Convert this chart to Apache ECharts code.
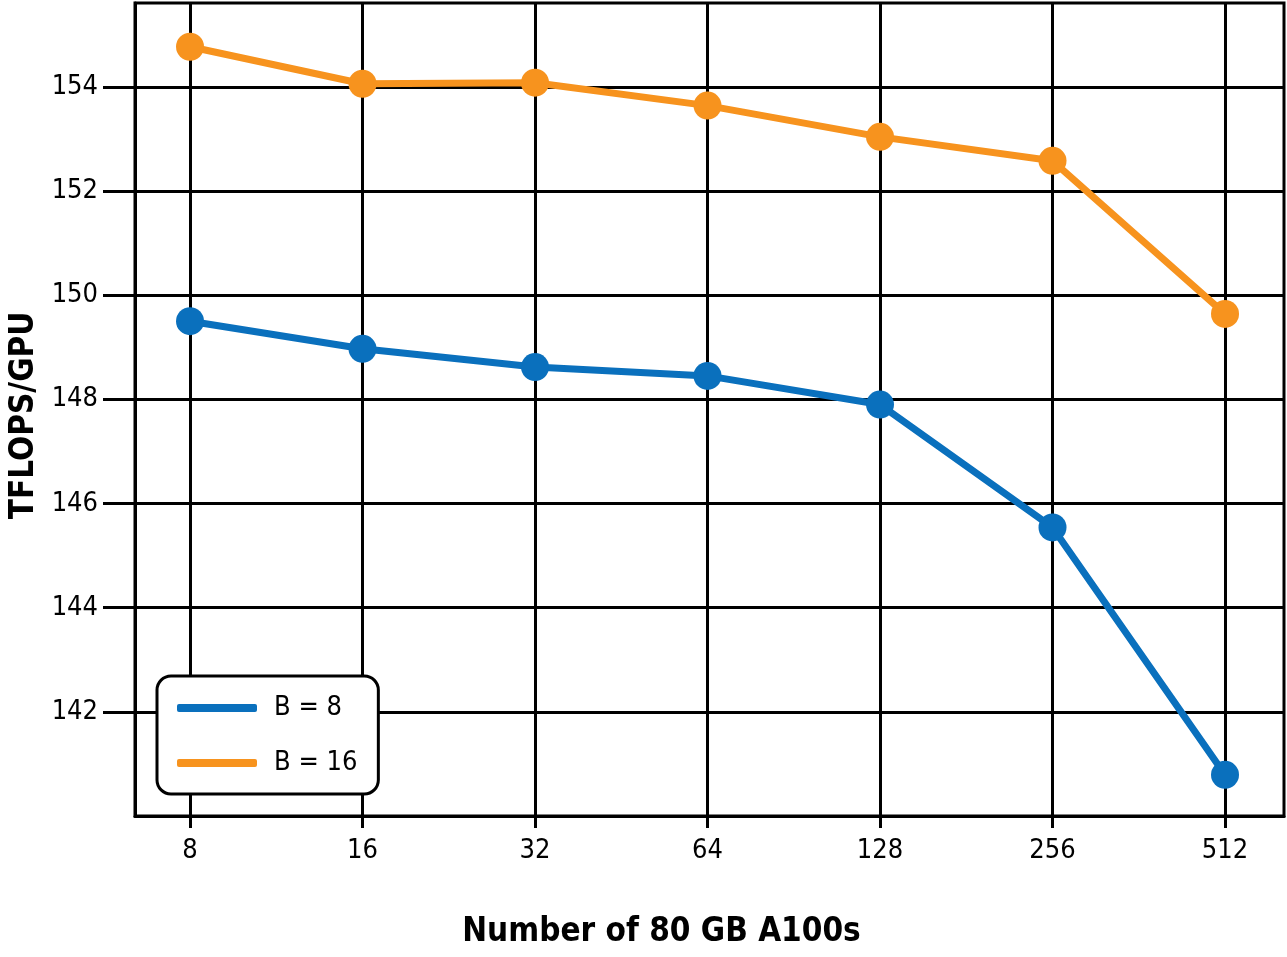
<!DOCTYPE html>
<html>
<head>
<meta charset="utf-8">
<script src="https://cdn.jsdelivr.net/npm/echarts@6/dist/echarts.min.js"></script>
<style>html,body{margin:0;padding:0;background:#fff}#c{width:1287px;height:957px}</style>
</head>
<body>
<div id="c"></div>
<script>
const gpuCounts = [8, 16, 32, 64, 128, 256, 512];
const seriesB8 = [149.50, 148.97, 148.62, 148.45, 147.90, 145.54, 140.79];
const seriesB16 = [154.77, 154.06, 154.08, 153.64, 153.04, 152.58, 149.64];
const yTicks = [142, 144, 146, 148, 150, 152, 154];
const seriesNames = ['B = 8', 'B = 16'];

const FONT = '"Liberation Sans Narrow", "DejaVu Sans Condensed", sans-serif';
const xVals = gpuCounts.map(n => Math.log2(n));
const toPairs = arr => arr.map((v, i) => [xVals[i], v]);

const chart = echarts.init(document.getElementById('c'));
chart.setOption({
  animation: false,
  backgroundColor: '#fff',
  grid: {left: 135, right: 3, top: 3, bottom: 141, show: true, borderColor: '#000', borderWidth: 3,
    backgroundColor: 'transparent', containLabel: false, outerBoundsMode: 'none'},
  xAxis: {
    type: 'value', min: 2.681, max: 9.342,
    name: 'Number of 80 GB A100s', nameLocation: 'middle', nameGap: 100,
    nameTextStyle: {fontFamily: FONT, fontSize: 33, fontWeight: 'bold', color: '#000', padding: [0, 96, 0, 0]},
    axisLine: {show: true, lineStyle: {color: '#000', width: 3}},
    axisTick: {show: true, inside: false, length: 12, lineStyle: {color: '#000', width: 3}, customValues: xVals},
    axisLabel: {customValues: xVals, margin: 21, fontFamily: FONT, fontSize: 27, color: '#000',
      formatter: v => String(Math.round(Math.pow(2, v)))},
    splitLine: {show: true, lineStyle: {color: '#000', width: 3}}
  },
  yAxis: {
    type: 'value', min: 140, max: 155.61,
    name: 'TFLOPS/GPU', nameLocation: 'middle', nameGap: 93,
    nameTextStyle: {fontFamily: FONT, fontSize: 33, fontWeight: 'bold', color: '#000', padding: [0, 12, 0, 0]},
    axisLine: {show: true, lineStyle: {color: '#000', width: 3}},
    axisTick: {show: true, inside: false, length: 32, lineStyle: {color: '#000', width: 3}, customValues: yTicks},
    axisLabel: {customValues: yTicks, margin: 37, fontFamily: FONT, fontSize: 27, color: '#000'},
    splitLine: {show: true, lineStyle: {color: '#000', width: 3}}
  },
  legend: {
    left: 157, top: 676, orient: 'vertical',
    data: seriesNames,
    icon: 'roundRect', itemWidth: 80, itemHeight: 8, itemGap: 25,
    padding: [17, 21, 16, 20],
    backgroundColor: '#fff', borderColor: '#000', borderWidth: 3, borderRadius: 14,
    textStyle: {fontFamily: FONT, fontSize: 27, color: '#000', lineHeight: 30, padding: [0, 0, 0, 12]}
  },
  series: [
    {name: seriesNames[0], type: 'line', data: toPairs(seriesB8), color: '#0a70bd',
      symbol: 'circle', symbolSize: 28, lineStyle: {width: 7, color: '#0a70bd'}, itemStyle: {color: '#0a70bd'}, z: 3},
    {name: seriesNames[1], type: 'line', data: toPairs(seriesB16), color: '#f7931e',
      symbol: 'circle', symbolSize: 28, lineStyle: {width: 7, color: '#f7931e'}, itemStyle: {color: '#f7931e'}, z: 3}
  ]
});
</script>
</body>
</html>
